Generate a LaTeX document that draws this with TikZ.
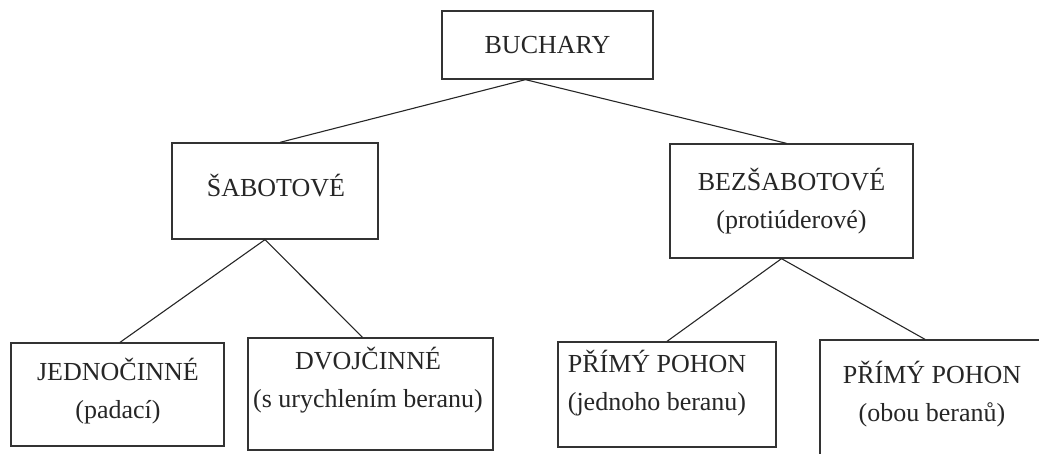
\documentclass[tikz,border=0pt]{standalone}
\usepackage{fontspec}
\setmainfont{Liberation Serif}
\tikzset{
	box/.style={draw=black!80, line width=1.3pt, rectangle, align=center, inner sep=0pt,
		font=\fontsize{26}{38}\selectfont, text=black!85},
	boxtext/.style={align=center, inner sep=0pt, font=\fontsize{26}{38}\selectfont, text=black!85},
	link/.style={black!85, line width=1.1pt}
}
\begin{document}
\begin{tikzpicture}[x=1pt,y=-1pt]
	\useasboundingbox (0,0) rectangle (1039,453);
	\clip (0,0) rectangle (1039,453);
	
	% top level
	\node[box, minimum width=211pt, minimum height=68pt] (buchary) at (547.5,45) {BUCHARY};
	
	% second level
	\node[box, minimum width=206pt, minimum height=96pt] (sabotove) at (275,191) {};
	\node[boxtext] (sabotext) at (276,186) {ŠABOTOVÉ};
	\node[box, minimum width=243pt, minimum height=114pt] (bezsabotove) at (791.5,201) {BEZŠABOTOVÉ\\(protiúderové)};
	
	% third level
	\node[box, minimum width=213pt, minimum height=103pt] (jednocinne) at (117.5,394.5) {};
	\node[boxtext] (jednotext) at (118,391) {JEDNOČINNÉ\\(padací)};
	\node[box, minimum width=245pt, minimum height=112pt] (dvojcinne) at (370.5,394) {};
	\node[boxtext] (dvojtext) at (368,380) {DVOJČINNÉ\\(s urychlením beranu)};
	\node[box, minimum width=218pt, minimum height=105pt] (primy1) at (667,394.5) {};
	\node[boxtext] (primy1text) at (657,383) {PŘÍMÝ POHON\\(jednoho beranu)};
	\node[box, minimum width=224pt, minimum height=120pt] (primy2) at (932,400) {};
	\node[boxtext] (primy2text) at (932,394) {PŘÍMÝ POHON\\(obou beranů)};
	
	\draw[link] ([xshift=-22pt]buchary.south) -- ([xshift=5pt]sabotove.north);
	\draw[link] ([xshift=-22pt]buchary.south) -- ([xshift=-5pt]bezsabotove.north);
	\draw[link] ([xshift=-10pt]sabotove.south) -- ([xshift=2.5pt]jednocinne.north);
	\draw[link] ([xshift=-10pt]sabotove.south) -- ([xshift=-8pt]dvojcinne.north);
	\draw[link] ([xshift=-10pt]bezsabotove.south) -- (primy1.north);
	\draw[link] ([xshift=-10pt]bezsabotove.south) -- ([xshift=-7pt]primy2.north);
\end{tikzpicture}
\end{document}
